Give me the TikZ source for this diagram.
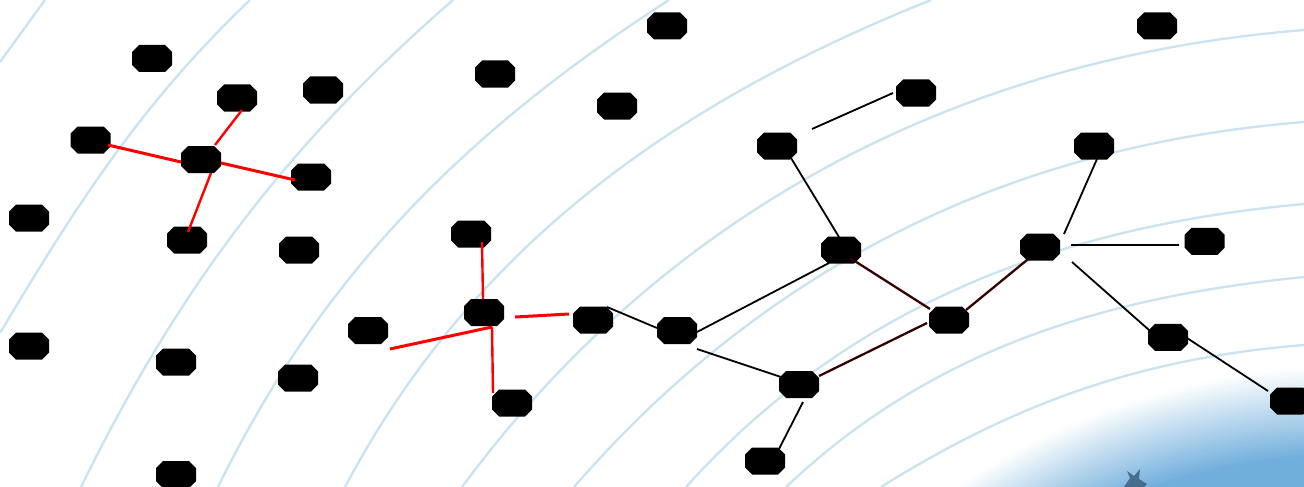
\documentclass[tikz,border=0pt]{standalone}
\usetikzlibrary{calc}
\definecolor{arcblue}{RGB}{202,227,241}
\definecolor{blobB}{RGB}{112,174,220}
\definecolor{darkred}{RGB}{55,0,0}
\definecolor{starc}{RGB}{55,90,120}
\begin{document}
\begin{tikzpicture}[x=1pt,y=-1pt,
  nd/.style={rectangle, inner sep=0pt, outer sep=0pt, minimum width=40pt, minimum height=27pt,
    append after command={\pgfextra{\fill[black]
      ([xshift=7pt]\tikzlastnode.north west) -- ([xshift=-7pt]\tikzlastnode.north east)
      -- ([yshift=-7pt]\tikzlastnode.north east) -- ([yshift=7pt]\tikzlastnode.south east)
      -- ([xshift=-7pt]\tikzlastnode.south east) -- ([xshift=7pt]\tikzlastnode.south west)
      -- ([yshift=7pt]\tikzlastnode.south west) -- ([yshift=-7pt]\tikzlastnode.north west) -- cycle;}}},
  arcline/.style={draw=arcblue, line width=2.3pt},
  redthick/.style={draw=red, line width=3pt},
  redthin/.style={draw=red, line width=2.4pt},
  blk/.style={draw=black, line width=1.8pt},
  dred/.style={draw=darkred, line width=2.3pt}]
\useasboundingbox (0,0) rectangle (1304,487);
\begin{scope}
\clip (0,0) rectangle (1304,487);
\fill[white] (0,0) rectangle (1304,487);
% background arcs
\draw[arcline] (0,62) -- (45,0);
\draw[arcline] (0,333) .. controls (77,204) and (141.4,103.5) .. (250,0);
\draw[arcline] (81,487) .. controls (177.8,289.4) and (287,144.4) .. (453,0);
\draw[arcline] (218,487) .. controls (323,272.4) and (468.2,129.5) .. (669,0);
\draw[arcline] (345,487) .. controls (473.3,244.9) and (676.6,101.8) .. (931,0);
\draw[arcline] (462,487) .. controls (667.3,209.6) and (960,57.6) .. (1304,30);
\draw[arcline] (574,487) .. controls (766.9,265.3) and (1011,145.5) .. (1304,122);
\draw[arcline] (686,487) .. controls (850,305) and (1060,226) .. (1304,204);
\draw[arcline] (786,487) .. controls (932,349) and (1104,297) .. (1304,277);
\draw[arcline] (881,487) .. controls (1017.5,401.7) and (1143.5,357.9) .. (1304,345);
% globe with soft edge
\foreach \i in {0,...,36} {
  \pgfmathsetmacro\rr{705-2.5*\i}
  \pgfmathtruncatemacro\pp{100*\i/36}
  \fill[blobB!\pp!white] (1350,1070) circle (\rr pt);
}
\fill[starc, opacity=0.8] (1124,487) -- (1130,478) -- (1127,471) -- (1134,476) -- (1140,469) -- (1139,479) -- (1147,484) -- (1144,487) -- cycle;
\end{scope}
% nodes
\node[nd] (n1) at (152,58.5) {};
\node[nd] (n2) at (237,98) {};
\node[nd] (n3) at (323,90) {};
\node[nd] (n4) at (90.5,140) {};
\node[nd] (n5) at (201,159.5) {};
\node[nd] (n6) at (311,177) {};
\node[nd] (n7) at (29,218) {};
\node[nd] (n8) at (187,240) {};
\node[nd] (n9) at (299,250) {};
\node[nd] (n10) at (29,346) {};
\node[nd] (n11) at (176,362) {};
\node[nd] (n12) at (298,378) {};
\node[nd] (n13) at (176,474.5) {};
\node[nd] (n14) at (495,74) {};
\node[nd] (n15) at (667,26) {};
\node[nd] (n16) at (617,106) {};
\node[nd] (n17) at (471,234) {};
\node[nd] (n18) at (368,330.5) {};
\node[nd] (n19) at (484,312.5) {};
\node[nd] (n20) at (512,403) {};
\node[nd] (n21) at (593,320) {};
\node[nd] (n22) at (677,330.5) {};
\node[nd] (n23) at (777,146) {};
\node[nd] (n24) at (916,93) {};
\node[nd] (n25) at (841,250) {};
\node[nd] (n26) at (799,384.5) {};
\node[nd] (n27) at (765,461) {};
\node[nd] (n28) at (949,320) {};
\node[nd] (n29) at (1040,247) {};
\node[nd] (n30) at (1094,146) {};
\node[nd] (n31) at (1204.6,241.3) {};
\node[nd] (n32) at (1168,337.3) {};
\node[nd] (n33) at (1290,401) {};
\node[nd] (n34) at (1157,26) {};
% red connectors, left star
\draw[redthick] ($(n4)+(17.5,5)$) -- ($(n5)+(-20,2.5)$);
\draw[redthick] ($(n5)+(20,3.5)$) -- ($(n6)+(-16,3)$);
\draw[redthin] ($(n5)+(14,-14.5)$) -- ($(n2)+(5,12)$);
\draw[redthin] ($(n5)+(10,13.5)$) -- ($(n8)+(1,-8)$);
% red connectors, middle star
\draw[redthin] ($(n17)+(11,8)$) -- ($(n19)+(-1,-13.5)$);
\draw[redthick] ($(n19)+(8,14.5)$) -- ($(n18)+(22,18.5)$);
\draw[redthin] ($(n19)+(8,14.5)$) -- ($(n20)+(-19,-10)$);
\draw[redthick] ($(n19)+(31,4.5)$) -- ($(n21)+(-24,-6)$);
% black connectors
\draw[blk] ($(n21)+(14,-13)$) -- ($(n22)+(-20,-2.5)$);
\draw[blk] ($(n22)+(20,1.5)$) -- ($(n25)+(-12,13)$);
\draw[blk] ($(n22)+(20,18.5)$) -- ($(n26)+(-18,-7.5)$);
\draw[blk] ($(n23)+(35,-17)$) -- ($(n24)+(-23,0)$);
\draw[blk] ($(n23)+(14,12)$) -- ($(n25)+(-2,-13)$);
\draw[dred] ($(n25)+(9,8)$) -- ($(n28)+(-19,-11)$);
\draw[dred] ($(n28)+(17,-10)$) -- ($(n29)+(-13,13)$);
\draw[dred] ($(n26)+(20,-8.5)$) -- ($(n28)+(-22,3)$);
\draw[blk] ($(n26)+(4,17.5)$) -- ($(n27)+(14,-12)$);
\draw[blk] ($(n30)+(3,13)$) -- ($(n29)+(24,-13)$);
\draw[blk] ($(n29)+(31,-2)$) -- ($(n31)+(-25.6,3.7)$);
\draw[blk] ($(n29)+(32,15)$) -- ($(n32)+(-19,-7.3)$);
\draw[blk] ($(n32)+(19,0.7)$) -- ($(n33)+(-22,-10)$);
\end{tikzpicture}
\end{document}
